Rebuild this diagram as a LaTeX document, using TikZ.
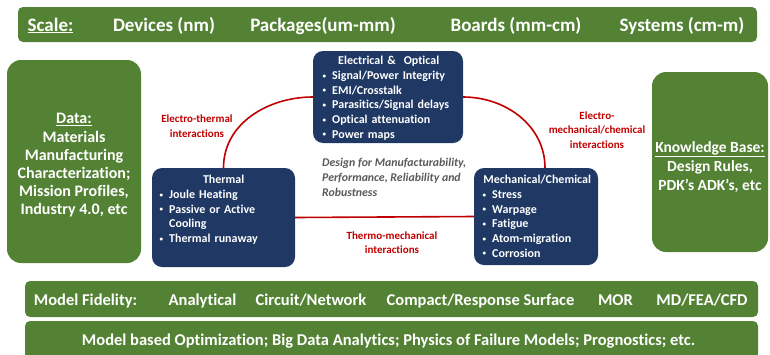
\documentclass[tikz,border=0pt]{standalone}
\usepackage{fontspec}
\setmainfont{Carlito}[Ligatures=NoCommon]
\usetikzlibrary{positioning}
\definecolor{barGreen}{HTML}{548235}
\definecolor{boxBlue}{HTML}{203864}
\definecolor{linkRed}{HTML}{C00000}
\definecolor{noteGrey}{HTML}{595959}
\newcommand{\itm}{\makebox[11pt][l]{\hspace{1.5pt}\raisebox{0.2ex}{\fontsize{7}{7}\selectfont\textbullet}}}
\newcommand{\ttl}[1]{\makebox[\linewidth][c]{#1}}

\begin{document}
\begin{tikzpicture}[x=1pt,y=-1pt,
    greenbox/.style={fill=barGreen, rounded corners=5pt, text=white, inner sep=0pt},
    bluebox/.style={fill=boxBlue, rounded corners=10pt, inner sep=0pt},
    bartxt/.style={text=white, anchor=base, inner sep=0pt, font=\fontsize{19}{22}\selectfont\bfseries},
    fidtxt/.style={text=white, anchor=base, inner sep=0pt, font=\fontsize{16.5}{20}\selectfont\bfseries},
    bluetxt/.style={text=white, anchor=north west, inner sep=0pt, align=left, font=\fontsize{12}{14.7}\selectfont\bfseries},
    link/.style={draw=linkRed, line width=1.6pt},
    linktxt/.style={text=linkRed, align=center, inner sep=0pt, font=\fontsize{11}{14.5}\selectfont\bfseries},
  ]
  \useasboundingbox (0,0) rectangle (770,354);
  \clip (0,0) rectangle (770,354);

  % scale bar
  \node[greenbox, minimum width=739pt, minimum height=35pt] (scale) at (387.5,24.5) {};
  \node[bartxt] (sc0) at (50.5,31) {\underline{Scale:}};
  \foreach \x/\t [count=\i] in {164/Devices (nm), 323/Packages(um-mm), 516/Boards (mm-cm), 682/Systems (cm-m)}
    \node[bartxt] (sc\i) at (\x,31) {\t};

  % side boxes
  \node[greenbox, rounded corners=14pt, minimum width=134pt, minimum height=203pt] (data) at (74,161.5) {};
  \node[text=white, align=center, inner sep=0pt, font=\fontsize{16}{18.2}\selectfont\bfseries] (dataText) at (74,165.5)
    {\underline{Data:}\\Materials\\Manufacturing\\Characterization;\\Mission Profiles,\\Industry 4.0, etc};
  \node[greenbox, rounded corners=14pt, minimum width=116pt, minimum height=180pt] (know) at (710,162) {};
  \node[text=white, align=center, inner sep=0pt, font=\fontsize{15.5}{19}\selectfont\bfseries] (knowText) at (710,167)
    {\underline{Knowledge Base:}\\Design Rules,\\PDK’s ADK’s, etc};

  % physics boxes
  \node[bluebox, minimum width=150pt, minimum height=92pt] (elec) at (388,97) {};
  \node[bluetxt, text width=135pt] (elecText) at (321,56) {\ttl{Electrical \&\ \ Optical}\\
    \itm Signal/Power Integrity\\ \itm EMI/Crosstalk\\ \itm Parasitics/Signal delays\\
    \itm Optical attenuation\\ \itm Power maps};
  \node[bluebox, minimum width=143pt, minimum height=99pt] (therm) at (223.5,217.5) {};
  \node[bluetxt, text width=131pt] (thermText) at (158,175) {\ttl{Thermal}\\
    \itm Joule Heating\\ \itm Passive or Active\\ \hspace*{11pt}Cooling\\ \itm Thermal runaway};
  \node[bluebox, minimum width=124pt, minimum height=97pt] (mech) at (536,216.5) {};
  \node[bluetxt, text width=112pt] (mechText) at (481,175) {\ttl{Mechanical/Chemical}\\
    \itm Stress\\ \itm Warpage\\ \itm Fatigue\\ \itm Atom-migration\\ \itm Corrosion};

  % interactions
  \draw[link] (elec.west) to[out=180,in=90] (therm.north);
  \draw[link] (elec.east) to[out=0,in=90] ([xshift=9pt]mech.north);
  \draw[link] (therm.east) -- (mech.west);
  \node[linktxt] (etLabel) at (197,126) {Electro-thermal\\interactions};
  \node[linktxt] (emLabel) at (597,130) {Electro-\\mechanical/chemical\\interactions};
  \node[linktxt] (tmLabel) at (392,242.5) {Thermo-mechanical\\interactions};
  \node[text=noteGrey, anchor=west, align=left, inner sep=0pt,
        font=\fontsize{11.8}{15}\selectfont\bfseries\itshape] (dfm) at (322,177)
    {Design for Manufacturability,\\Performance, Reliability and\\Robustness};

  % model bars
  \node[greenbox, minimum width=733pt, minimum height=36pt] (fid) at (391.5,299) {};
  \foreach \x/\t [count=\i] in {85.5/Model Fidelity:, 202.5/Analytical, 311/{Circuit/Network},
      480.5/{Compact/Response Surface}, 615.5/MOR, 702/{MD/FEA/CFD}}
    \node[fidtxt] (fid\i) at (\x,305) {\t};
  \node[greenbox, minimum width=733pt, minimum height=45pt] (opt) at (391.5,343.5) {};
  \node[fidtxt] (optText) at (388.5,345.5)
    {Model based Optimization; Big Data Analytics; Physics of Failure Models; Prognostics; etc.};
\end{tikzpicture}
\end{document}
